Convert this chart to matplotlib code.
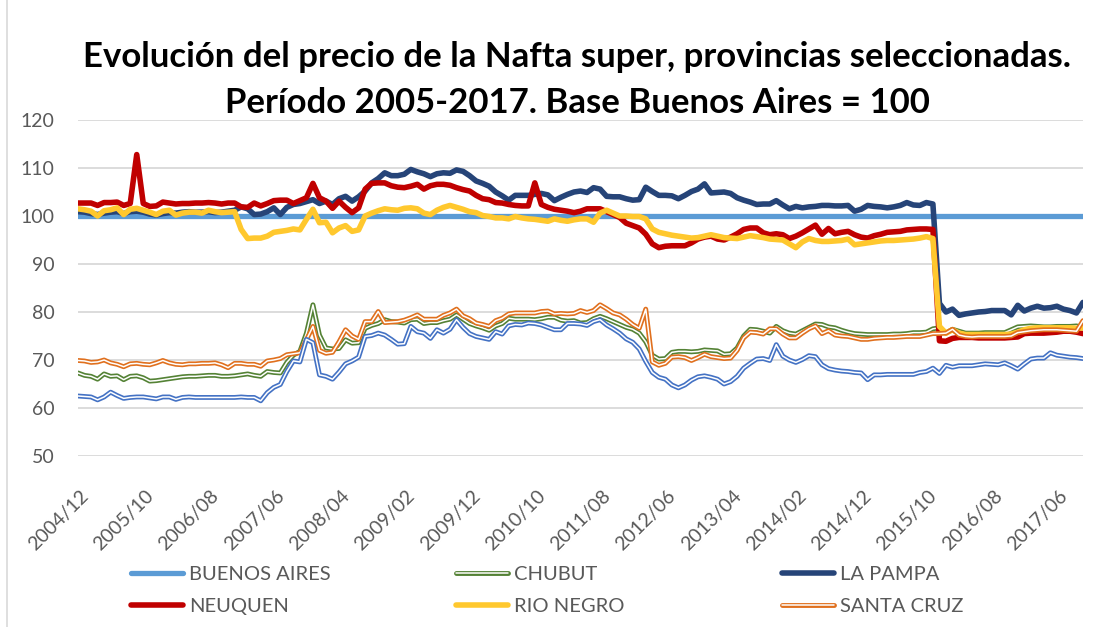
import matplotlib
matplotlib.use("Agg")
import matplotlib.pyplot as plt
import matplotlib.patheffects as pe
from matplotlib.lines import Line2D

# monthly series, 2004/12 .. 2017/10 (Buenos Aires = 100)
n_months = 155
tick_labels = ['2004/12', '2005/10', '2006/08', '2007/06', '2008/04', '2009/02',
               '2009/12', '2010/10', '2011/08', '2012/06', '2013/04', '2014/02',
               '2014/12', '2015/10', '2016/08', '2017/06']

buenos_aires = [100.0] * n_months

la_pampa = [
    100.9, 100.8, 100.5, 100.3, 100.6, 100.8, 100.9, 100.5, 100.9, 101.0,
    100.8, 100.4, 100.2, 100.5, 100.7, 100.6, 100.8, 100.9, 100.8, 100.8,
    100.9, 100.7, 100.8, 101.0, 101.2, 101.9, 101.5, 100.3, 100.4, 100.9,
    101.7, 100.3, 101.8, 102.4, 102.6, 103.0, 103.4, 102.6, 103.1, 102.4,
    103.6, 104.1, 103.1, 104.0, 105.2, 106.9, 107.8, 109.0, 108.4, 108.4,
    108.7, 109.7, 109.2, 108.8, 108.2, 108.8, 109.0, 108.9, 109.6, 109.3,
    108.4, 107.3, 106.8, 106.2, 105.0, 104.2, 103.3, 104.3, 104.3, 104.3,
    104.5, 104.7, 104.4, 103.2, 103.9, 104.5, 105.0, 105.2, 104.9, 105.9,
    105.6, 104.1, 104.0, 104.0, 103.6, 103.3, 103.4, 106.0, 105.1, 104.3,
    104.3, 104.2, 103.6, 104.3, 105.1, 105.6, 106.7, 104.8, 104.9, 105.0,
    104.7, 103.8, 103.3, 102.9, 102.4, 102.5, 102.5, 103.2, 102.3, 101.5,
    102.0, 101.7, 101.9, 102.0, 102.2, 102.2, 102.1, 102.1, 102.2, 101.0,
    101.4, 102.2, 102.0, 101.9, 101.7, 101.9, 102.2, 102.8, 102.3, 102.2,
    102.8, 102.5, 81.8, 80.0, 80.6, 79.3, 79.6, 79.8, 80.0, 80.1,
    80.3, 80.3, 80.3, 79.4, 81.4, 80.2, 80.8, 81.2, 80.8, 80.9,
    81.2, 80.6, 80.3, 79.8, 82.0]

neuquen = [
    102.7, 102.7, 102.7, 102.2, 102.8, 102.8, 102.9, 102.2, 102.6, 112.8,
    102.6, 102.0, 102.1, 102.9, 102.7, 102.5, 102.6, 102.6, 102.7, 102.7,
    102.8, 102.7, 102.5, 102.7, 102.7, 101.9, 101.8, 102.7, 102.1, 102.6,
    103.2, 103.3, 103.3, 102.6, 103.2, 103.8, 106.8, 103.8, 103.1, 101.6,
    103.1, 101.8, 100.7, 101.7, 105.6, 106.8, 106.9, 106.9, 106.3, 106.0,
    105.9, 106.2, 106.6, 105.6, 106.3, 106.6, 106.6, 106.4, 105.9, 105.5,
    105.2, 104.3, 103.6, 103.4, 102.8, 102.7, 102.4, 102.2, 102.1, 102.1,
    106.9, 102.4, 101.8, 101.4, 101.2, 101.0, 100.7, 101.0, 101.5, 101.5,
    101.5, 100.9, 100.3, 99.7, 98.5, 98.0, 97.5, 96.2, 94.2, 93.4,
    93.7, 93.8, 93.8, 93.8, 94.4, 95.2, 95.6, 95.8, 95.2, 95.0,
    95.6, 96.3, 97.2, 97.5, 97.5, 96.5, 96.1, 96.3, 96.1, 95.3,
    95.8, 96.5, 97.3, 98.1, 96.2, 97.4, 96.3, 96.6, 96.8, 96.1,
    95.6, 95.4, 95.9, 96.2, 96.6, 96.7, 96.8, 97.1, 97.2, 97.3,
    97.3, 97.2, 74.0, 73.9, 74.5, 74.7, 74.7, 74.7, 74.6, 74.6,
    74.6, 74.6, 74.6, 74.7, 74.8, 75.5, 75.6, 75.6, 75.6, 75.7,
    75.8, 76.0, 76.0, 75.8, 75.5]

rio_negro = [
    101.5, 101.3, 101.0, 100.0, 101.1, 101.3, 101.7, 100.3, 101.4, 101.6,
    101.2, 100.8, 100.3, 101.0, 101.2, 100.2, 100.6, 100.8, 100.8, 100.6,
    101.2, 100.9, 100.7, 100.8, 100.9, 97.2, 95.3, 95.4, 95.4, 95.8,
    96.6, 96.8, 97.0, 97.3, 97.1, 99.3, 101.4, 98.6, 98.7, 96.5,
    97.5, 98.0, 96.8, 97.1, 100.0, 100.6, 101.1, 101.5, 101.3, 101.2,
    101.6, 101.7, 101.5, 100.6, 100.3, 101.2, 101.8, 102.2, 101.8, 101.4,
    100.9, 100.7, 100.1, 99.9, 99.6, 99.6, 99.4, 99.9, 99.6, 99.4,
    99.3, 99.1, 98.9, 99.4, 99.1, 98.9, 99.2, 99.4, 99.4, 98.7,
    100.6, 101.2, 100.6, 100.0, 100.0, 99.9, 99.9, 99.4, 97.3, 96.6,
    96.3, 96.0, 95.8, 95.6, 95.4, 95.5, 95.8, 96.1, 95.8, 95.5,
    95.4, 95.3, 95.6, 95.9, 95.7, 95.5, 95.2, 95.1, 95.0, 94.2,
    93.4, 94.6, 95.3, 94.9, 94.7, 94.7, 94.8, 94.9, 95.2, 94.0,
    94.2, 94.4, 94.6, 94.8, 94.9, 94.9, 95.0, 95.1, 95.2, 95.4,
    95.7, 95.3, 77.0, 75.6, 76.3, 75.6, 75.3, 75.3, 75.3, 75.3,
    75.3, 75.3, 75.3, 75.4, 75.8, 76.3, 76.6, 76.7, 76.7, 76.7,
    76.7, 76.7, 76.7, 76.6, 76.7]

chubut = [
    67.3, 66.8, 66.6, 66.0, 67.1, 66.6, 66.7, 65.9, 66.6, 66.7,
    66.3, 65.6, 65.7, 65.9, 66.1, 66.3, 66.5, 66.6, 66.6, 66.7,
    66.8, 66.8, 66.6, 66.6, 66.7, 66.9, 67.1, 66.8, 66.6, 67.6,
    67.4, 67.3, 69.5, 71.0, 71.8, 75.6, 81.5, 75.2, 72.5, 72.3,
    72.4, 74.2, 73.5, 73.6, 76.6, 77.2, 77.6, 78.4, 78.0, 77.9,
    77.7, 78.4, 78.5, 77.6, 77.8, 77.8, 78.2, 78.5, 79.4, 78.5,
    77.6, 77.1, 76.7, 76.2, 77.1, 77.6, 78.7, 78.5, 78.5, 78.5,
    78.4, 78.6, 78.9, 78.9, 78.3, 78.1, 78.2, 77.7, 77.8, 78.6,
    79.1, 78.6, 78.0, 77.4, 76.8, 76.4, 75.6, 73.8, 71.0, 70.2,
    70.3, 71.6, 71.8, 71.8, 71.7, 71.8, 72.1, 72.0, 71.9, 71.2,
    71.3, 72.5, 75.0, 76.4, 76.3, 76.0, 75.6, 77.0, 76.1, 75.6,
    75.4, 76.1, 76.8, 77.5, 77.4, 76.9, 76.7, 76.2, 75.8, 75.5,
    75.4, 75.3, 75.3, 75.3, 75.3, 75.4, 75.4, 75.5, 75.7, 75.7,
    75.8, 76.5, 76.7, 75.6, 76.4, 76.0, 75.6, 75.6, 75.6, 75.7,
    75.7, 75.7, 75.7, 76.3, 76.9, 77.0, 77.1, 77.0, 76.9, 76.9,
    77.0, 77.0, 77.0, 77.1, 76.8]

santa_cruz = [
    69.9, 69.8, 69.5, 69.6, 70.0, 69.4, 69.1, 68.6, 69.2, 69.3,
    69.1, 69.0, 69.4, 69.9, 69.4, 69.1, 69.0, 69.2, 69.2, 69.3,
    69.3, 69.4, 69.0, 68.4, 69.3, 69.3, 69.1, 69.1, 68.7, 69.8,
    70.0, 70.3, 71.1, 71.3, 71.5, 74.2, 77.0, 72.0, 71.4, 71.6,
    73.8, 76.3, 75.0, 74.3, 78.0, 78.0, 80.1, 77.8, 77.9, 78.0,
    78.3, 78.8, 79.4, 78.5, 78.5, 78.5, 79.3, 79.8, 80.6, 79.2,
    78.6, 77.7, 77.4, 77.0, 78.2, 78.7, 79.6, 79.8, 79.8, 79.8,
    79.8, 80.1, 80.2, 79.6, 79.7, 79.6, 79.7, 80.3, 79.9, 80.3,
    81.5, 80.7, 79.8, 79.4, 78.5, 77.4, 76.6, 80.6, 69.6, 68.9,
    69.3, 70.6, 70.7, 70.5, 69.9, 70.5, 71.2, 70.7, 70.5, 70.3,
    70.4, 72.0, 74.6, 75.8, 75.7, 75.4, 76.5, 76.5, 75.4, 74.6,
    74.6, 75.6, 76.5, 77.1, 75.5, 76.1, 75.2, 75.0, 74.9, 74.6,
    74.3, 74.3, 74.5, 74.6, 74.7, 74.7, 74.8, 74.9, 74.9, 74.9,
    75.2, 75.5, 75.5, 75.6, 76.4, 75.2, 74.9, 74.8, 74.9, 74.9,
    74.9, 74.9, 74.9, 75.0, 75.7, 75.9, 76.1, 76.2, 76.3, 76.3,
    76.3, 76.2, 76.1, 76.0, 78.2]

# seventh series drawn in the chart but absent from its legend
sin_leyenda = [
    62.5, 62.4, 62.3, 61.7, 62.3, 63.3, 62.6, 62.0, 62.2, 62.3,
    62.3, 62.1, 61.9, 62.3, 62.3, 61.8, 62.2, 62.3, 62.2, 62.2,
    62.2, 62.2, 62.2, 62.2, 62.2, 62.3, 62.2, 62.2, 61.5, 63.2,
    64.3, 64.9, 67.6, 69.8, 69.6, 74.3, 73.6, 66.9, 66.6, 66.0,
    67.5, 69.2, 69.8, 70.6, 74.9, 75.1, 75.6, 75.2, 74.3, 73.3,
    73.4, 77.0, 75.9, 75.6, 74.5, 76.3, 75.6, 76.4, 78.4, 76.8,
    75.5, 74.9, 74.6, 74.3, 75.9, 75.4, 77.1, 77.4, 77.3, 77.7,
    77.6, 77.3, 76.8, 76.3, 76.3, 77.6, 77.6, 77.5, 77.2, 78.0,
    78.4, 77.3, 76.5, 75.6, 74.4, 73.7, 72.3, 69.7, 67.4, 66.4,
    66.0, 64.8, 64.2, 64.8, 65.8, 66.5, 66.7, 66.4, 66.0, 65.0,
    65.5, 66.6, 68.3, 69.3, 70.2, 70.3, 69.9, 73.2, 70.8, 70.0,
    69.5, 70.1, 70.9, 70.7, 69.0, 68.2, 67.9, 67.7, 67.6, 67.4,
    67.3, 65.9, 66.9, 66.9, 67.0, 67.0, 67.0, 67.0, 67.0, 67.4,
    67.6, 68.3, 67.2, 68.9, 68.5, 68.8, 68.8, 68.8, 69.0, 69.2,
    69.1, 69.0, 69.4, 68.8, 68.1, 69.2, 70.2, 70.4, 70.4, 71.5,
    71.0, 70.8, 70.6, 70.5, 70.3]

W, H = 1106, 627
fig = plt.figure(figsize=(W / 100, H / 100), dpi=100)
fig.patch.set_facecolor("white")
ax = fig.add_axes([78 / W, 1 - 456 / H, (1083 - 78) / W, (456 - 120) / H])

months = list(range(n_months))


def solid(y, color, lw=4.0, label=None):
    ax.plot(months, y, color=color, lw=lw, label=label,
            solid_joinstyle="round", solid_capstyle="round")


def hollow(y, color, label="_nolegend_"):
    # Excel double line: coloured outline with a white core
    ax.plot(months, y, color="white", lw=1.1, label=label,
            solid_joinstyle="round", solid_capstyle="round",
            path_effects=[pe.Stroke(linewidth=3.5, foreground=color),
                          pe.Normal()])


# same drawing order as the workbook
solid(buenos_aires, "#5B9BD5", lw=3.8, label="BUENOS AIRES")
hollow(chubut, "#548235", label="CHUBUT")
solid(la_pampa, "#264478", label="LA PAMPA")
solid(neuquen, "#C00000", label="NEUQUEN")
solid(rio_negro, "#FFC82E", label="RIO NEGRO")
hollow(santa_cruz, "#E0701E", label="SANTA CRUZ")
hollow(sin_leyenda, "#4472C4")

ax.set_xlim(0, n_months - 1)
ax.set_ylim(50, 120)
ax.set_yticks(range(50, 121, 10))
# Excel puts the end of each slanted label a little right of its month
ax.set_xticks([i + 1.2 for i in range(0, 151, 10)])
ax.set_xticklabels(tick_labels, rotation=45, ha="right", va="center",
                   rotation_mode="anchor")
ax.tick_params(length=0, colors="#595959", labelsize=14)
ax.tick_params(axis="y", pad=17)
ax.tick_params(axis="x", pad=27)
ax.grid(axis="y", color="#D9D9D9", lw=1.3)
ax.set_axisbelow(True)
for s in ax.spines.values():
    s.set_visible(False)
for lab in ax.get_xticklabels() + ax.get_yticklabels():
    lab.set_fontfamily("Lato")

# title
title_kw = dict(ha="center", va="baseline", fontsize=25, fontweight="bold",
                family="Lato", color="black")
fig.text(577 / W, 1 - 67 / H,
         "Evolución del precio de la Nafta super, provincias seleccionadas.",
         **title_kw)
fig.text(577 / W, 1 - 113 / H,
         "Período 2005-2017. Base Buenos Aires = 100", **title_kw)

# legend: three equal-width columns like Excel, two rows each
handles, labels = ax.get_legend_handles_labels()
by_label = dict(zip(labels, handles))
columns = [("BUENOS AIRES", "NEUQUEN"), ("CHUBUT", "RIO NEGRO"),
           ("LA PAMPA", "SANTA CRUZ")]
col_x = [131, 456, 782]
for names, x0 in zip(columns, col_x):
    fig.legend([by_label[k] for k in names], list(names), frameon=False,
               loc="center left", bbox_to_anchor=(x0 / W, 1 - 590.5 / H),
               prop={"family": "Lato", "size": 14.5}, labelcolor="#595959",
               handlelength=2.6, handletextpad=0.3, labelspacing=0.7,
               borderpad=0, borderaxespad=0)

# left edge of the chart frame
fig.add_artist(Line2D([7 / W, 7 / W], [0, 1], color="#D9D9D9", lw=1.2))

fig.savefig("out.png", dpi=100, facecolor="white")
